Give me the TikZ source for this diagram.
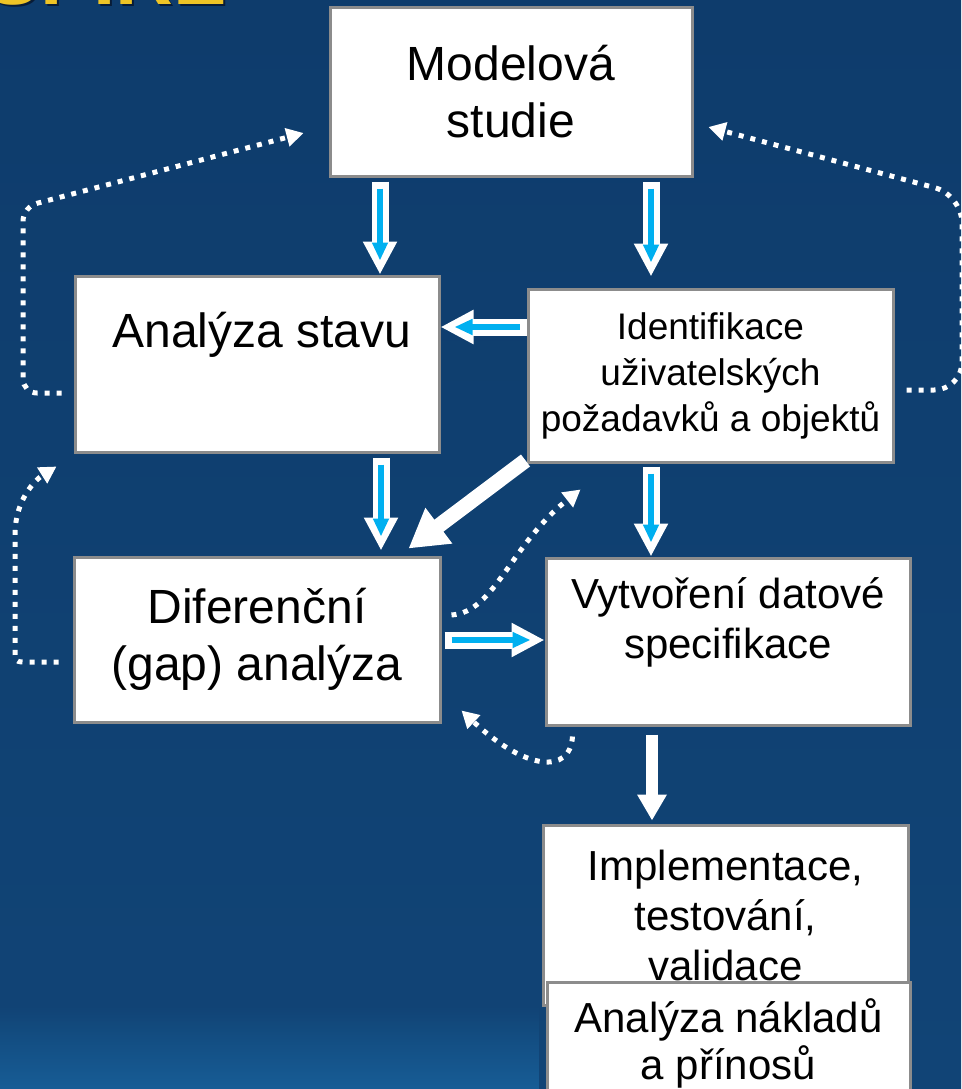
\documentclass[tikz,border=0pt]{standalone}
\usepackage{fontspec}
\setmainfont{Liberation Sans}
\usetikzlibrary{arrows.meta,calc,fadings}
\definecolor{bgtop}{RGB}{14,60,108}
\definecolor{bgbot}{RGB}{17,68,118}
\definecolor{bglight}{RGB}{26,104,164}
\definecolor{abl}{RGB}{0,176,240}
\definecolor{bgray}{RGB}{140,140,140}
\definecolor{ttl}{RGB}{238,196,38}
\definecolor{shd}{RGB}{8,28,55}
\begin{document}
\begin{tikzpicture}[x=1pt,y=-1pt,
  box/.style={draw=bgray, line width=3pt, fill=white, text=black, align=center, inner sep=0pt},
  hollow/.style={draw=white, line width=17pt, -{Triangle[length=33pt,width=32pt]},
    postaction={draw=abl, line width=6pt, -{Triangle[length=18pt,width=15pt]}, shorten >=14pt, shorten <=7pt}},
  solidarrow/.style={draw=white, line width=12pt, -{Triangle[length=26pt,width=28pt]}},
  bigarrow/.style={draw=white, line width=15pt, -{Triangle[length=38pt,width=42pt]}},
  dotted arrow/.style={draw=white, line width=5pt, dash pattern=on 5pt off 7pt, -{Triangle[length=17pt,width=18pt]}}
]
\useasboundingbox (0,0) rectangle (961,1089);
\shade[top color=bgtop, bottom color=bgbot] (0,0) rectangle (961,1089);
\fill[bglight, path fading=north, opacity=0.7] (0,1005) rectangle (540,1089);

% cut-off title
\begin{scope}
\clip (0,0) rectangle (961,1089);
\node[anchor=base east, inner sep=0pt, font=\fontsize{80}{80}\selectfont\bfseries, text=shd] at (229,7) {INSPIRE};
\node[anchor=base east, inner sep=0pt, font=\fontsize{80}{80}\selectfont\bfseries, text=ttl] (title) at (227,5) {INSPIRE};
\end{scope}

% boxes
\node[box, minimum width=362pt, minimum height=168pt, font=\fontsize{48}{57}\selectfont] (mod) at (511,92) {Modelová\\studie};
\node[box, minimum width=364pt, minimum height=176pt,
  label={[font=\fontsize{48}{55}\selectfont, xshift=5pt, yshift=29pt]center:Analýza stavu}] (ast) at (257,364) {};
\node[box, minimum width=365pt, minimum height=173pt, font=\fontsize{37}{46}\selectfont] (idf) at (710.5,375.5) {Identifikace\\uživatelských\\požadavků a objektů};
\node[box, minimum width=366pt, minimum height=165pt, font=\fontsize{48}{57}\selectfont] (dif) at (257,639.5) {Diferenční\\(gap) analýza};
\node[box, minimum width=364pt, minimum height=167pt,
  label={[font=\fontsize{42}{50}\selectfont, align=center, yshift=19.5pt]center:Vytvoření datové\\specifikace}] (vyt) at (728,641.5) {};
\node[box, minimum width=365pt, minimum height=180pt, font=\fontsize{42}{50}\selectfont] (imp) at (725.5,915) {Implementace,\\testování,\\validace};
\node[box, minimum width=363pt, minimum height=122pt, font=\fontsize{42}{47}\selectfont] (ana) at (728.5,1043) {Analýza nákladů\\a přínosů};

% hollow (white/blue) arrows
\coordinate (a1s) at ($(mod.south)+(-131,4)$);
\draw[hollow] (a1s) -- (a1s |- ast.north);
\coordinate (a2s) at ($(mod.south)+(140,4)$);
\draw[hollow] (a2s) -- ($(a2s |- idf.north)+(0,-11)$);
\coordinate (a3s) at ($(idf.west)+(0,-48.5)$);
\draw[hollow] (a3s) -- (ast.east |- a3s);
\coordinate (a4s) at ($(ast.south)+(124,4)$);
\draw[hollow] (a4s) -- ($(a4s |- dif.north)+(0,-5)$);
\coordinate (a5s) at ($(idf.south)+(-59.5,3)$);
\draw[hollow] (a5s) -- (a5s |- vyt.north);
\coordinate (a6s) at ($(dif.east)+(3,0.5)$);
\draw[hollow] (a6s) -- (vyt.west |- a6s);

% solid white arrows
\draw[bigarrow] ($(idf.south west)+(-1,-3)$) -- ($(dif.north east)+(-33,-7)$);
\coordinate (a8s) at ($(vyt.south)+(-76,8)$);
\draw[solidarrow] (a8s) -- ($(a8s |- imp.north)+(0,-3)$);

% dotted feedback arrows
\coordinate (d1s) at ($(ast.west)+(-12,29)$);
\coordinate (d1e) at ($(mod.west)+(-25,41)$);
\draw[dotted arrow, rounded corners=14pt] (d1s) -- (23,393) -- (23,207) -- (d1e);

\coordinate (d2s) at ($(idf.east)+(12,14.5)$);
\coordinate (d2e) at ($(mod.east)+(15,35)$);
\draw[dotted arrow, rounded corners=28pt] (d2s) -- (962,390) -- (962,195) -- (d2e);

\coordinate (d3s) at ($(dif.west)+(-14,22.5)$);
\coordinate (d3e) at ($(ast.south west)+(-17,13)$);
\draw[dotted arrow] (d3s) -- (28,662) .. controls (15,662) .. (15,649) -- (15,535) .. controls (15,500) and (35,480) .. (d3e);

\coordinate (d4s) at ($(dif.east)+(10,-24.5)$);
\coordinate (d4e) at ($(idf.south west)+(54,26)$);
\draw[dotted arrow] (d4s) .. controls (495,612) and (510,545) .. (d4e);

\coordinate (d5s) at ($(vyt.south west)+(28,10)$);
\coordinate (d5e) at ($(dif.south east)+(20,-13)$);
\draw[dotted arrow] (d5s) .. controls (570,775) and (525,770) .. (d5e);
\end{tikzpicture}
\end{document}
